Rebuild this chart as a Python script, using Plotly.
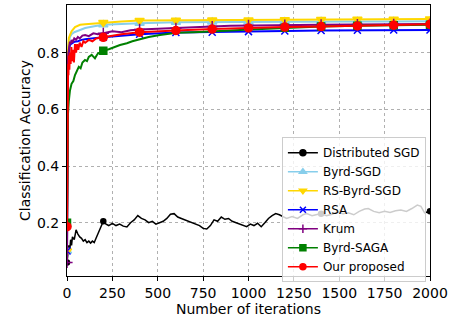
import plotly.graph_objects as go

# ---------------- data ----------------
sgd_x = [0, 5, 10, 15, 20, 25, 30, 40, 50, 60, 70, 80, 90, 100, 110, 120, 130, 140, 150, 160, 170, 180, 190, 200,
         215, 230, 250, 270, 290, 310, 330, 350, 370, 390, 410, 430, 450, 470, 490, 510, 530, 550, 570, 590, 610,
         630, 650, 670, 690, 710, 730, 750, 770, 790, 810, 830, 850, 870, 890, 910, 930, 950, 970, 990, 1010, 1030,
         1050, 1070, 1090, 1110, 1130, 1150, 1170, 1190, 1210, 1240, 1270, 1300, 1320, 1350, 1380, 1400, 1430, 1460,
         1490, 1520, 1550, 1580, 1610, 1640, 1660, 1690, 1720, 1750, 1780, 1810, 1840, 1870, 1900, 1930, 1950, 1970,
         1985, 2000]
sgd_y = [0.06, 0.09, 0.12, 0.10, 0.14, 0.12, 0.15, 0.14, 0.175, 0.16, 0.15, 0.145, 0.135, 0.14, 0.13, 0.135, 0.128,
         0.135, 0.13, 0.145, 0.16, 0.175, 0.19, 0.205, 0.195, 0.19, 0.198, 0.19, 0.195, 0.188, 0.185, 0.2, 0.21, 0.225,
         0.215, 0.21, 0.2, 0.205, 0.195, 0.2, 0.205, 0.215, 0.23, 0.232, 0.22, 0.215, 0.21, 0.205, 0.2, 0.195, 0.19,
         0.18, 0.178, 0.19, 0.21, 0.205, 0.22, 0.212, 0.215, 0.205, 0.2, 0.195, 0.19, 0.186, 0.195, 0.19, 0.198, 0.186,
         0.2, 0.215, 0.225, 0.232, 0.228, 0.22, 0.215, 0.222, 0.215, 0.228, 0.232, 0.225, 0.23, 0.232, 0.225, 0.23,
         0.238, 0.232, 0.235, 0.228, 0.24, 0.248, 0.25, 0.24, 0.235, 0.24, 0.236, 0.242, 0.245, 0.24, 0.25, 0.262,
         0.258, 0.235, 0.238, 0.24]

byrd_x = [0, 2, 5, 10, 16, 25, 40, 72, 100, 150, 200, 300, 400, 600, 800, 1000, 1200, 1400, 1600, 1800, 2000]
byrd_y = [0.10, 0.60, 0.80, 0.835, 0.855, 0.865, 0.872, 0.88, 0.887, 0.893, 0.898, 0.901, 0.904, 0.907, 0.908,
          0.909, 0.909, 0.91, 0.91, 0.91, 0.911]

rs_x = [0, 2, 5, 10, 16, 25, 44, 72, 100, 150, 200, 300, 400, 600, 800, 1000, 1200, 1400, 1600, 1800, 2000]
rs_y = [0.10, 0.65, 0.80, 0.852, 0.862, 0.875, 0.89, 0.898, 0.900, 0.903, 0.906, 0.91, 0.913, 0.914, 0.915,
        0.915, 0.916, 0.917, 0.918, 0.918, 0.919]

rsa_x = [0, 2, 5, 10, 16, 25, 40, 60, 80, 100, 130, 160, 200, 300, 400, 600, 800, 1000, 1200, 1400, 1600, 1800, 2000]
rsa_y = [0.10, 0.55, 0.74, 0.80, 0.827, 0.832, 0.838, 0.84, 0.845, 0.847, 0.85, 0.852, 0.854, 0.86, 0.865, 0.871,
         0.872, 0.874, 0.876, 0.878, 0.879, 0.88, 0.88]

krum_x = [0, 2, 5, 8, 12, 16, 20, 25, 30, 40, 50, 60, 70, 85, 100, 120, 145, 170, 200, 250, 300, 350, 400, 500,
          600, 700, 800, 900, 1000, 1200, 1400, 1600, 1800, 2000]
krum_y = [0.06, 0.55, 0.76, 0.80, 0.82, 0.839, 0.83, 0.845, 0.835, 0.85, 0.845, 0.855, 0.85, 0.86, 0.862, 0.858,
          0.868, 0.865, 0.868, 0.875, 0.872, 0.879, 0.882, 0.884, 0.886, 0.889, 0.892, 0.895, 0.896, 0.897, 0.898,
          0.899, 0.9, 0.901]

saga_x = [0, 2, 5, 10, 16, 25, 35, 44, 55, 65, 75, 85, 99, 110, 120, 136, 145, 154, 163, 172, 185, 200, 230, 260,
          292, 330, 360, 402, 450, 512, 560, 604, 700, 806, 900, 1008, 1200, 1400, 1600, 1800, 2000]
saga_y = [0.20, 0.42, 0.58, 0.63, 0.665, 0.69, 0.70, 0.721, 0.735, 0.75, 0.745, 0.765, 0.774, 0.77, 0.785, 0.792,
          0.786, 0.78, 0.79, 0.798, 0.80, 0.807, 0.812, 0.82, 0.827, 0.833, 0.84, 0.847, 0.855, 0.862, 0.866, 0.87,
          0.872, 0.874, 0.878, 0.882, 0.888, 0.892, 0.895, 0.897, 0.898]

ours_x = [0, 2, 4, 6, 8, 10, 13, 16, 20, 24, 28, 33, 38, 44, 50, 56, 62, 70, 80, 90, 100, 120, 140, 160, 200, 250,
          300, 400, 500, 600, 800, 1000, 1200, 1400, 1600, 1800, 2000]
ours_y = [0.186, 0.55, 0.70, 0.76, 0.72, 0.79, 0.74, 0.80, 0.76, 0.82, 0.77, 0.81, 0.765, 0.83, 0.80, 0.83, 0.81,
          0.835, 0.82, 0.84, 0.835, 0.845, 0.84, 0.85, 0.854, 0.86, 0.865, 0.872, 0.876, 0.878, 0.883, 0.887, 0.89,
          0.892, 0.894, 0.897, 0.90]

marker_iters = [0, 200, 400, 600, 800, 1000, 1200, 1400, 1600, 1800, 2000]

series = [
    ("Distributed SGD", sgd_x, sgd_y, "black", "circle", 5, 1.5),
    ("Byrd-SGD", byrd_x, byrd_y, "#87CEEB", "triangle-up", 8, 2),
    ("RS-Byrd-SGD", rs_x, rs_y, "#FFD700", "triangle-down", 8, 2),
    ("RSA", rsa_x, rsa_y, "blue", "x-thin", 7, 2),
    ("Krum", krum_x, krum_y, "purple", "cross-thin", 8, 2),
    ("Byrd-SAGA", saga_x, saga_y, "green", "square", 7, 2),
    ("Our proposed", ours_x, ours_y, "red", "circle", 8, 2),
]

x_ticks = [0, 250, 500, 750, 1000, 1250, 1500, 1750, 2000]
y_ticks = [0.2, 0.4, 0.6, 0.8]

fig = go.Figure()
for name, xs, ys, color, sym, msize, lw in series:
    fig.add_trace(go.Scatter(x=xs, y=ys, mode="lines", line=dict(color=color, width=lw),
                             showlegend=False, hoverinfo="skip"))
    mx = [x for x in xs if x in marker_iters]
    my = [y for x, y in zip(xs, ys) if x in marker_iters]
    fig.add_trace(go.Scatter(x=mx, y=my, mode="markers",
                             marker=dict(color=color, symbol=sym, size=msize,
                                         line=dict(color=color, width=1.5)),
                             showlegend=False, hoverinfo="skip"))

for name, xs, ys, color, sym, msize, lw in series:
    fig.add_trace(go.Scatter(x=[None], y=[None], mode="lines+markers", name=name,
                             line=dict(color=color, width=1.5),
                             marker=dict(color=color, symbol=sym, size=6,
                                         line=dict(color=color, width=1.5))))

axis_common = dict(showline=True, mirror=True, linecolor="black", linewidth=1,
                   ticks="outside", ticklen=4, tickcolor="black",
                   showgrid=True, gridcolor="#b0b0b0", griddash="dot", gridwidth=0.8,
                   zeroline=False, tickfont=dict(size=14, color="black"))

fig.update_layout(
    width=456, height=320,
    margin=dict(l=67, r=26, t=5, b=44),
    paper_bgcolor="white", plot_bgcolor="white",
    font=dict(family="DejaVu Sans", color="black"),
    xaxis=dict(range=[0, 2000], tickvals=x_ticks, ticktext=[str(v) for v in x_ticks],
               title=dict(text="Number of iterations", font=dict(size=14), standoff=3), **axis_common),
    yaxis=dict(range=[0.012, 0.968], tickvals=y_ticks, ticktext=[f"{v:.1f}" for v in y_ticks],
               title=dict(text="Classification Accuracy", font=dict(size=14), standoff=3), **axis_common),
    legend=dict(x=0.592, y=0.512, xanchor="left", yanchor="top",
                bgcolor="rgba(255,255,255,0.8)", bordercolor="#cccccc", borderwidth=1,
                font=dict(size=12), tracegroupgap=0, itemwidth=30),
    showlegend=True,
)

fig.write_html("out.html")
